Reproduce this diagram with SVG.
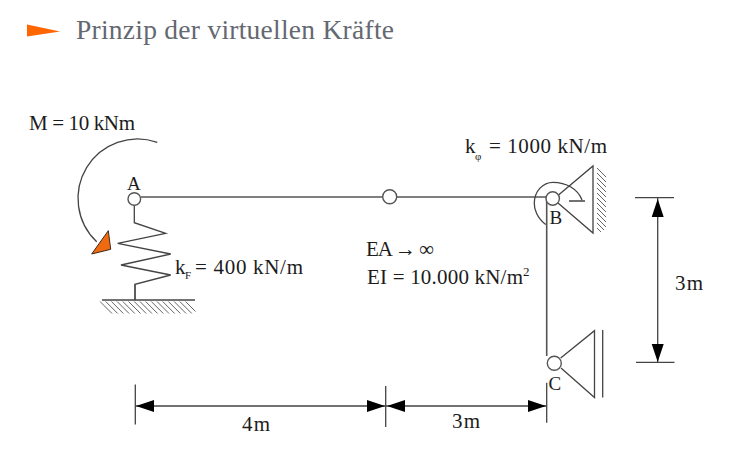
<svg xmlns="http://www.w3.org/2000/svg" width="750" height="465" viewBox="0 0 750 465">
<style>
text{font-family:"Liberation Serif","DejaVu Serif",serif;fill:#1c1c1c;font-size:21px}
.title{fill:#646870;font-size:27.5px}
.n{font-size:19px}
.sub{font-size:11px}
.l{fill:none;stroke:#444;stroke-width:1.3}
.th{fill:none;stroke:#555;stroke-width:1.6}
.h{fill:none;stroke:#666;stroke-width:1}
.d{fill:none;stroke:#444;stroke-width:1.3}
.c{fill:#fff;stroke:#555;stroke-width:1.4}
.a{fill:#000;stroke:none}
.o{fill:#f26a0f;stroke:#3a2a20;stroke-width:1}
</style>
<defs>
<path id="hg" class="h" d="M100 301.5l12 12M105.700 301.500l12 12M111.400 301.500l12 12M117.100 301.500l12 12M122.800 301.500l12 12M128.500 301.500l12 12M134.200 301.500l12 12M139.900 301.500l12 12M145.600 301.500l12 12M151.300 301.500l12 12M157 301.500l12 12M162.700 301.500l12 12M168.400 301.500l12 12M174.100 301.500l12 12M179.800 301.500l12 12M185.500 301.500l10 10"/>
<path id="hw" class="h" d="M597 168l9 9M597 173l9 9M597 178l9 9M597 183l9 9M597 188l9 9M597 193l9 9M597 198l9 9M597 203l9 9M597 208l9 9M597 213l9 9M597 218l9 9M597 223l7 7M597 228l4 4"/>
</defs>
<rect width="750" height="465" fill="#fff"/>
<g id="title">
<polygon points="27,24.500 60,31.500 27,36.500" fill="#ff6600"/>
<text class="title" x="76" y="39" textLength="318">Prinzip der virtuellen Kräfte</text>
</g>
<g id="connectors">
<path class="th" d="M141 197H383M397 197H546.700V356"/>
<path class="l" d="M134.300 205V222.700L165.700 233.300 117.700 243.300 170.700 254 121 265 170.700 275 135 284.300V300"/>
<path class="th" d="M135 284V300"/>
<path class="l" d="M102 300H195"/>
<use href="#hg"/>
<path class="l" d="M157.300 142.300A59.500 59.500 0 0 0 96.700 241.700"/>
<polygon class="o" points="108.300,230.700 91.700,254 110.700,249.300"/>
<path class="l" d="M545.700 224.500C537 218 534 209 534.300 203C534.500 191 543 182.300 553 182.300C566 182.300 578 189 582 200M569 201H585"/>
<path class="l" d="M558.500 195L593 166V233L558 203"/>
<use href="#hw"/>
<path class="l" d="M560.700 358L594.500 330.700V397.500L561 368M602.700 330V397.500"/>
<g id="dims">
<path class="d" d="M135.300 384.500V424.500M385.700 386V427M546.700 382.700V422.700M135.300 406H546.700M635 197.700H674M636 362.300H674.500M657.700 197.700V362.300"/>
<path class="a" d="M136 406l18-6v12zM385 406l-18-6v12zM387 406l18-6v12zM546 406l-18-6v12zM657.700 199l-6 18h12zM657.700 362l-6-18h12z"/>
</g>
</g>
<g id="node-A"><circle class="c" cx="134.300" cy="199" r="6.300"/><text class="n" x="127" y="190">A</text></g>
<g id="node-hinge"><circle class="c" cx="389.700" cy="196.800" r="7"/></g>
<g id="node-B"><circle class="c" cx="552.700" cy="198.500" r="6.700"/><text class="n" x="549.500" y="224">B</text></g>
<g id="node-C"><circle class="c" cx="554.300" cy="363.300" r="7"/><text class="n" x="548.500" y="390">C</text></g>
<g id="labels">
<text x="29" y="130" textLength="106">M = 10 kNm</text>
<text x="175" y="274">k</text><text class="sub" x="185" y="279">F</text>
<text x="195" y="274" textLength="108">= 400 kN/m</text>
<text x="465" y="153">k</text><text class="sub" x="475" y="160">φ</text>
<text x="489" y="153" textLength="118">= 1000 kN/m</text>
<text x="366" y="256" textLength="68">EA → ∞</text>
<text x="367" y="284" textLength="156">EI = 10.000 kN/m</text><text x="523" y="276" style="font-size:13px">2</text>
<text x="242" y="431" textLength="28">4m</text>
<text x="452" y="428" textLength="28">3m</text>
<text x="675" y="290" textLength="28">3m</text>
</g>
</svg>
